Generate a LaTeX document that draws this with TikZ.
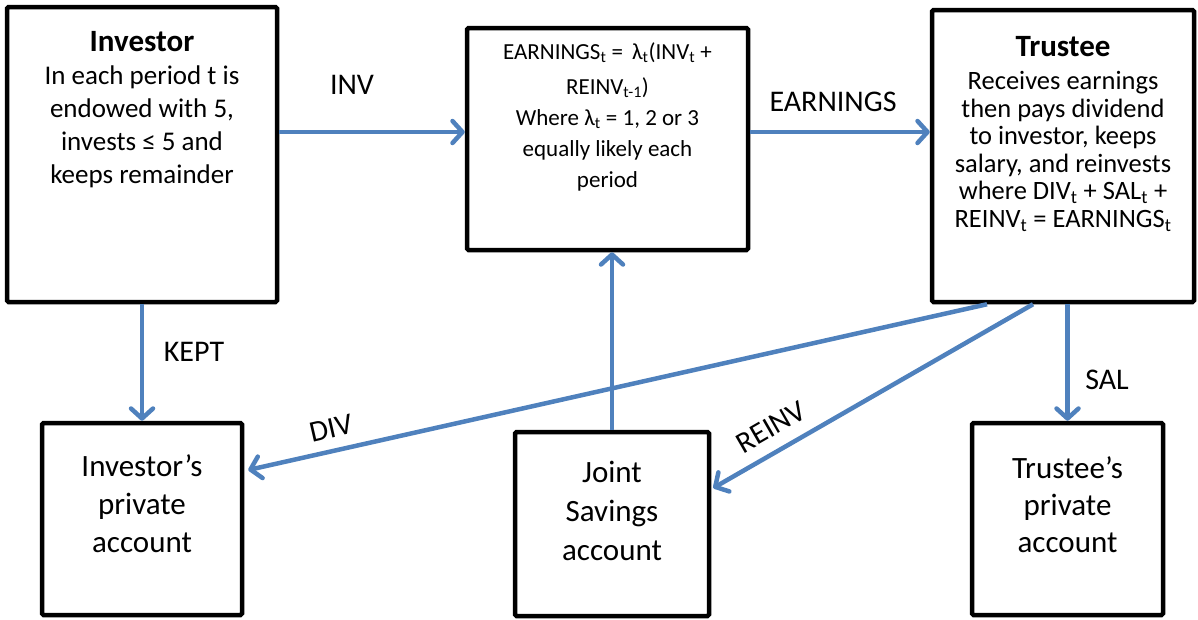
\documentclass[tikz,border=0pt]{standalone}
\usepackage{fontspec}
\setmainfont{Carlito}
\usetikzlibrary{arrows.meta}
\definecolor{arrblue}{HTML}{4F81BD}
\begin{document}
\begin{tikzpicture}[x=1pt,y=-1pt,
  box/.style={draw=black, line width=4.5pt, rounded corners=1.5pt, inner sep=0pt, fill=white},
  flow/.style={draw=arrblue, line width=4.5pt, -{Straight Barb[length=10pt,width=22pt,round]}},
  lbl/.style={font=\fontsize{30}{36}\selectfont, inner sep=0pt},
  txt/.style={align=center, inner sep=0pt, anchor=north}]
\useasboundingbox (0,0) rectangle (1198,619);
% boxes
\node[box, minimum width=270pt, minimum height=295pt] (inv) at (142,154.5) {};
\node[box, minimum width=281pt, minimum height=222pt] (mid) at (607.5,139) {};
\node[box, minimum width=262pt, minimum height=292pt] (tru) at (1063,156) {};
\node[box, minimum width=200pt, minimum height=192pt] (ipa) at (142,519) {};
\node[box, minimum width=194pt, minimum height=184pt] (jsa) at (612,524) {};
\node[box, minimum width=191pt, minimum height=192pt] (tpa) at (1067.5,519) {};
% texts
\node[txt, font=\fontsize{27}{33}\selectfont] (invtxt) at (142,31)
  {{\fontsize{31}{33}\selectfont\bfseries Investor}\\In each period t is\\endowed with 5,\\invests ≤ 5 and\\keeps remainder};
\node[txt, font=\fontsize{23}{31}\selectfont] (midtxt) at (607.5,42)
  {EARNINGS\textsubscript{t} = \,λ\textsubscript{t}(INV\textsubscript{t} +\\[4pt]REINV\textsubscript{t-1})\\Where λ\textsubscript{t} = 1, 2 or 3\\equally likely each\\period};
\node[txt, font=\fontsize{26.5}{27.5}\selectfont] (trutxt) at (1063,36)
  {{\fontsize{31}{33}\selectfont\bfseries Trustee}\\[6pt]Receives earnings\\then pays dividend\\to investor, keeps\\salary, and reinvests\\where DIV\textsubscript{t} + SAL\textsubscript{t} +\\REINV\textsubscript{t} = EARNINGS\textsubscript{t}};
\node[txt, font=\fontsize{31}{38}\selectfont] (ipatxt) at (142,454) {Investor’s\\private\\account};
\node[txt, font=\fontsize{31}{39}\selectfont] (jsatxt) at (612,461) {Joint\\Savings\\account};
\node[txt, font=\fontsize{31}{37}\selectfont] (tpatxt) at (1067.5,456) {Trustee’s\\private\\account};
% connectors
\draw[flow] ([yshift=22.5pt]inv.east) -- ([yshift=22.5pt]inv.east -| mid.west);
\draw[flow] ([yshift=24pt]tru.west -| mid.east) -- ([yshift=24pt]tru.west);
\draw[flow] (inv.south) -- (inv.south |- ipa.north);
\draw[flow] (tru.south -| tpa.north) -- (tpa.north);
\draw[flow] (jsa.north) -- (jsa.north |- mid.south);
\draw[flow] ([xshift=-76pt]tru.south) -- ([yshift=49pt,xshift=4pt]ipa.east);
\draw[flow] ([xshift=-30pt]tru.south) -- ([yshift=36pt,xshift=2pt]jsa.east);
% labels
\node[lbl] (linv) at (352,85) {INV};
\node[lbl] (learn) at (833,102) {EARNINGS};
\node[lbl] (lkept) at (194,352) {KEPT};
\node[lbl] (lsal) at (1107,380) {SAL};
\node[lbl, rotate=13] (ldiv) at (331,428) {DIV};
\node[lbl, rotate=30] (lreinv) at (771,427) {REINV};
\end{tikzpicture}
\end{document}
